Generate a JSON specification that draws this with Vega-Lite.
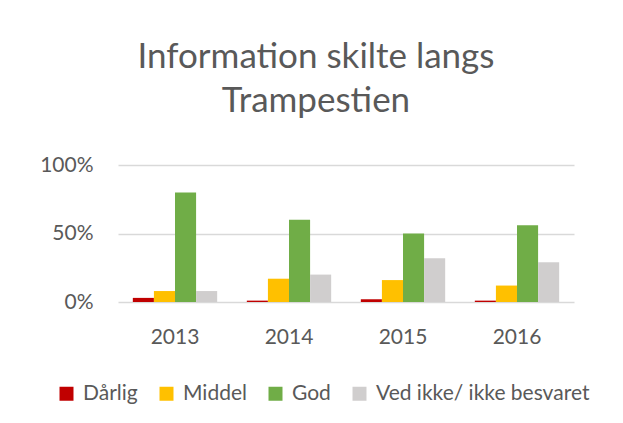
{
  "$schema": "https://vega.github.io/schema/vega-lite/v6.json",
  "autosize": {"type": "none"},
  "width": 456,
  "height": 137,
  "padding": {"left": 118, "top": 165, "right": 49, "bottom": 121},
  "background": "white",
  "title": {
    "text": ["Information skilte langs", "Trampestien"],
    "font": "Lato",
    "fontSize": 35,
    "fontWeight": "normal",
    "color": "#595959",
    "anchor": "middle",
    "dx": -30,
    "offset": 35,
    "lineHeight": 44
  },
  "data": {
    "values": [
      {"year": "2013", "cat": "Dårlig", "value": 0.03},
      {"year": "2013", "cat": "Middel", "value": 0.08},
      {"year": "2013", "cat": "God", "value": 0.80},
      {"year": "2013", "cat": "Ved ikke/ ikke besvaret", "value": 0.08},
      {"year": "2014", "cat": "Dårlig", "value": 0.01},
      {"year": "2014", "cat": "Middel", "value": 0.17},
      {"year": "2014", "cat": "God", "value": 0.60},
      {"year": "2014", "cat": "Ved ikke/ ikke besvaret", "value": 0.20},
      {"year": "2015", "cat": "Dårlig", "value": 0.02},
      {"year": "2015", "cat": "Middel", "value": 0.16},
      {"year": "2015", "cat": "God", "value": 0.50},
      {"year": "2015", "cat": "Ved ikke/ ikke besvaret", "value": 0.32},
      {"year": "2016", "cat": "Dårlig", "value": 0.01},
      {"year": "2016", "cat": "Middel", "value": 0.12},
      {"year": "2016", "cat": "God", "value": 0.56},
      {"year": "2016", "cat": "Ved ikke/ ikke besvaret", "value": 0.29}
    ]
  },
  "mark": {"type": "bar"},
  "encoding": {
    "x": {
      "field": "year",
      "type": "nominal",
      "scale": {"paddingInner": 0.26, "paddingOuter": 0.13},
      "axis": {
        "title": null,
        "labelAngle": 0,
        "labelFont": "Lato",
        "labelFontSize": 21,
        "labelColor": "#595959",
        "labelPadding": 24,
        "domain": false,
        "ticks": false
      }
    },
    "xOffset": {
      "field": "cat",
      "sort": ["Dårlig", "Middel", "God", "Ved ikke/ ikke besvaret"],
      "scale": {"paddingInner": 0, "paddingOuter": 0}
    },
    "y": {
      "field": "value",
      "type": "quantitative",
      "scale": {"domain": [0, 1]},
      "axis": {
        "title": null,
        "values": [0, 0.5, 1],
        "format": ".0%",
        "labelFont": "Lato",
        "labelFontSize": 21,
        "labelColor": "#595959",
        "labelPadding": 25,
        "domain": false,
        "ticks": false,
        "gridColor": "#D9D9D9",
        "gridWidth": 1.5
      }
    },
    "color": {
      "field": "cat",
      "type": "nominal",
      "sort": ["Dårlig", "Middel", "God", "Ved ikke/ ikke besvaret"],
      "scale": {
        "domain": ["Dårlig", "Middel", "God", "Ved ikke/ ikke besvaret"],
        "range": ["#C00000", "#FFC000", "#70AD47", "#D0CECE"]
      },
      "legend": {
        "title": null,
        "orient": "none",
        "direction": "horizontal",
        "legendX": -62,
        "legendY": 218,
        "symbolType": "square",
        "symbolSize": 196,
        "symbolStrokeWidth": 0,
        "labelFont": "Lato",
        "labelFontSize": 21,
        "labelColor": "#595959",
        "labelOffset": 6,
        "labelLimit": 400,
        "columnPadding": 18
      }
    }
  },
  "config": {
    "view": {"stroke": null}
  }
}
